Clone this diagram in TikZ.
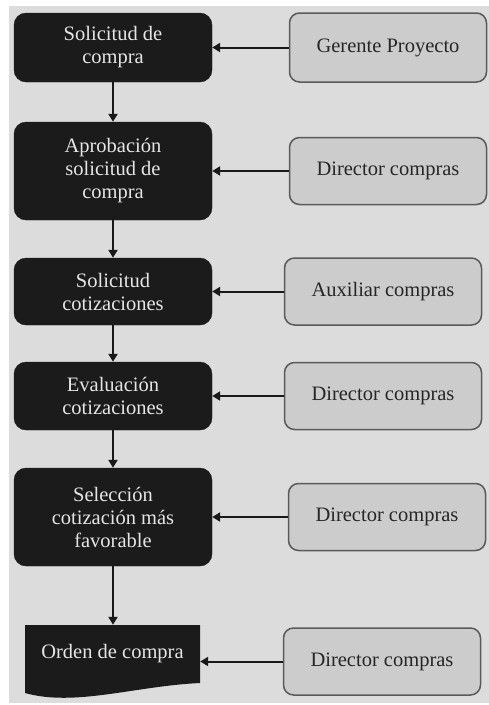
\documentclass[tikz,border=0pt]{standalone}
\usepackage{fontspec}
\setmainfont{Liberation Serif}
\usetikzlibrary{arrows.meta}

\definecolor{fondo}{HTML}{DCDCDC}
\definecolor{caja}{HTML}{1B1B1B}
\definecolor{cajarol}{HTML}{CCCCCC}
\definecolor{borde}{HTML}{5A5A5A}

\begin{document}
\begin{tikzpicture}[x=1pt, y=-1pt,
    paso/.style={rectangle, rounded corners=12pt, fill=caja, draw=caja,
        text=white!90!black, minimum width=198pt, align=center, inner sep=0pt,
        font=\fontsize{20.5}{23}\selectfont},
    documento/.style={rectangle, text=white!90!black, minimum width=175pt,
        minimum height=58pt, inner sep=0pt, font=\fontsize{20.5}{23}\selectfont},
    responsable/.style={rectangle, rounded corners=10pt, fill=cajarol, draw=borde,
        line width=1.5pt, text=black!85, minimum width=197pt, minimum height=67pt,
        inner sep=0pt, font=\fontsize{20.5}{23}\selectfont},
    flecha/.style={line width=2pt, black!90, -{Triangle[length=8pt,width=9pt]}}]
    \useasboundingbox (0,0) rectangle (489,705);
    \fill[fondo] (9,6) rectangle (489,703);

    \node[paso, minimum height=69pt] (s1) at (113,47.5) {Solicitud de\\compra};
    \node[paso, minimum height=98pt] (s2) at (113,171) {Aprobación\\solicitud de\\compra};
    \node[paso, minimum height=67pt] (s3) at (113,291.5) {Solicitud\\cotizaciones};
    \node[paso, minimum height=68pt] (s4) at (113,396) {Evaluación\\cotizaciones};
    \node[paso, minimum height=98pt] (s5) at (113,517) {Selección\\cotización más\\favorable};
    \fill[caja] (25,625) -- (200,625) -- (200,683)
        .. controls (135,686) and (75,707) .. (25,693) -- cycle;
    \node[documento] (s6) at (112.5,654) {Orden de compra};

    \node[responsable, minimum height=69pt] (r1) at (388,47.5) {Gerente Proyecto};
    \node[responsable] (r2) at (388,171) {Director compras};
    \node[responsable] (r3) at (383,291.5) {Auxiliar compras};
    \node[responsable] (r4) at (383,396) {Director compras};
    \node[responsable] (r5) at (387,517) {Director compras};
    \node[responsable] (r6) at (382,661.5) {Director compras};

    \draw[flecha] (s1) -- (s2);
    \draw[flecha] (s2) -- (s3);
    \draw[flecha] (s3) -- (s4);
    \draw[flecha] (s4) -- (s5);
    \draw[flecha] (s5.south) -- (s5.south |- s6.north);

    \draw[flecha] (r1) -- (s1);
    \draw[flecha] (r2) -- (s2);
    \draw[flecha] (r3) -- (s3);
    \draw[flecha] (r4) -- (s4);
    \draw[flecha] (r5) -- (s5);
    \draw[flecha] (r6.west) -- (r6.west -| s6.east);
\end{tikzpicture}
\end{document}
